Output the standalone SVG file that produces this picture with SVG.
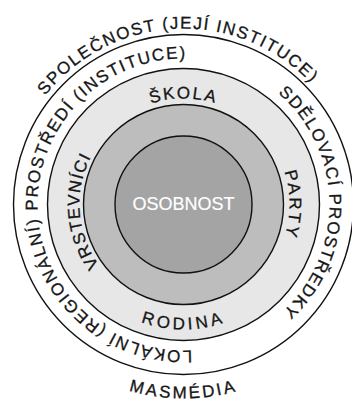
<svg xmlns="http://www.w3.org/2000/svg" xmlns:xlink="http://www.w3.org/1999/xlink" width="352" height="403" viewBox="0 0 352 403">
  <style>
    .ring { stroke: #111111; stroke-width: 1.4; }
    .lbl { font-family: "Liberation Sans", Arial, sans-serif; font-size: 17px; fill: #161616; stroke: #161616; stroke-width: 0.3; text-anchor: middle; }
    .center { font-family: "Liberation Sans", Arial, sans-serif; font-size: 18px; fill: #ffffff; stroke: #ffffff; stroke-width: 0.2; text-anchor: middle; }
  </style>
  <defs>
    <path id="p-spol" d="M7.67,196.82 A176,176 0 0 1 357.99,181.53"/>
    <path id="p-lok" d="M258.70,329.65 A146,146 0 1 1 254.28,76.81"/>
    <path id="p-sdel" d="M193.68,58.86 A146,146 0 0 1 198.76,349.70"/>
    <path id="p-vrst" d="M181.69,308.48 A104,104 0 0 1 167.23,101.78"/>
    <path id="p-skola" d="M77.90,195.26 A106,106 0 0 1 289.10,195.26"/>
    <path id="p-party" d="M192.74,98.90 A106,106 0 0 1 192.74,310.10"/>
    <path id="p-rodina" d="M58.98,215.40 A125,125 0 0 0 308.02,215.40"/>
    <path id="p-mas" d="M-9.76,221.41 A194,194 0 0 0 376.76,221.41"/>
  </defs>
  <rect width="352" height="403" fill="#ffffff"/>
  <g id="spolecnost">
    <circle class="ring" cx="183.5" cy="204.5" r="170" fill="#ffffff"/>
    <text class="lbl" letter-spacing="1.6"><textPath xlink:href="#p-spol" href="#p-spol" startOffset="50%">SPOLEČNOST (JEJÍ INSTITUCE)</textPath></text>
    <text class="lbl" letter-spacing="2.5"><textPath xlink:href="#p-mas" href="#p-mas" startOffset="50%">MASMÉDIA</textPath></text>
    <text class="lbl" letter-spacing="1.6"><textPath xlink:href="#p-lok" href="#p-lok" startOffset="50%">LOKÁLNÍ (REGIONÁLNÍ) PROSTŘEDÍ (INSTITUCE)</textPath></text>
    <text class="lbl" letter-spacing="1.5"><textPath xlink:href="#p-sdel" href="#p-sdel" startOffset="50%">SDĚLOVACÍ PROSTŘEDKY</textPath></text>
  </g>
  <g id="socialni-okoli">
    <circle class="ring" cx="183.5" cy="204.5" r="136" fill="#e7e7e7"/>
    <text class="lbl" letter-spacing="2"><textPath xlink:href="#p-skola" href="#p-skola" startOffset="50%">ŠKOLA</textPath></text>
    <text class="lbl" letter-spacing="2.4"><textPath xlink:href="#p-party" href="#p-party" startOffset="50%">PARTY</textPath></text>
    <text class="lbl" letter-spacing="3.5"><textPath xlink:href="#p-rodina" href="#p-rodina" startOffset="50%">RODINA</textPath></text>
    <text class="lbl" letter-spacing="1.3"><textPath xlink:href="#p-vrst" href="#p-vrst" startOffset="50%">VRSTEVNÍCI</textPath></text>
  </g>
  <g id="blizke-okoli">
    <circle class="ring" cx="183.5" cy="204.5" r="100" fill="#bdbdbd"/>
  </g>
  <g id="osobnost">
    <circle class="ring" cx="183.5" cy="204.5" r="68.5" fill="#a4a4a4"/>
    <text class="center" x="183.5" y="210">OSOBNOST</text>
  </g>
</svg>
